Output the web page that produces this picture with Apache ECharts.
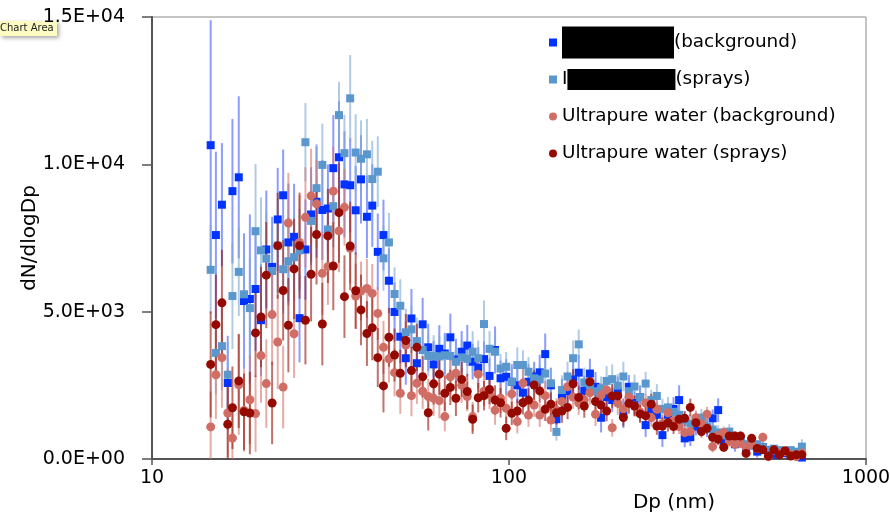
<!DOCTYPE html>
<html><head><meta charset="utf-8">
<script src="https://cdn.jsdelivr.net/npm/echarts@6/dist/echarts.min.js"></script>
<style>html,body{margin:0;padding:0;background:#fff}#c{width:890px;height:513px}</style>
</head><body><div id="c"></div>
<script>
// particle diameter bins (nm)
const diameters = [14.6,15.1,15.7,16.3,16.8,17.5,18.1,18.8,19.5,20.2,
20.9,21.7,22.5,23.3,24.1,25.0,25.9,26.9,27.9,28.9,
30.0,31.1,32.2,33.4,34.6,35.9,37.2,38.5,40.0,41.4,
42.9,44.5,46.1,47.8,49.6,51.4,53.3,55.2,57.3,59.4,
61.5,63.8,66.1,68.5,71.0,73.7,76.4,79.1,82.0,85.1,
88.2,91.4,94.7,98.2,101.8,105.5,109.4,113.4,117.6,121.9,
126.3,131.0,135.8,140.7,145.9,151.2,156.8,162.5,168.5,174.7,
181.1,187.7,194.6,201.7,209.1,216.7,224.7,232.9,241.4,250.3,
259.5,269.0,278.8,289.0,299.6,310.6,322.0,333.8,346.0,358.7,
371.8,385.4,399.5,414.2,429.4,445.1,461.4,478.3,495.8,514.0,
532.8,552.3,572.5,593.5,615.3,637.8,661.2];

const seriesNames = ['Redacted (background)','Redacted (sprays)','Ultrapure water (background)','Ultrapure water (sprays)'];

const sampleBackground = [10650,7600,8630,2580,9090,9560,5360,5430,5770,4710,
7110,6520,8130,8950,7350,7540,4780,7110,8300,8730,
8450,8500,9870,10240,9320,9290,8440,9490,8220,8600,
7030,7600,6050,4990,4150,3420,4770,3250,4570,3790,
3210,3740,3580,4130,3380,3640,3850,3300,3100,3390,
2820,3700,2740,2790,2620,2500,2250,2620,2800,2940,
3560,2500,1350,2120,2300,2700,2930,2320,2900,2450,
1400,2100,2000,2300,1550,2450,1900,2100,1150,1700,
1500,810,1500,1700,2000,700,740,1100,1250,1050,
1380,1660,600,800,500,650,350,600,250,400,
300,150,250,200,120,150,50];
const sampleBackgroundErr = [4240,2830,2090,1600,2450,2750,2300,2870,2100,1900,
2000,1700,1750,1550,2000,1800,1500,1700,1600,1900,
1700,1500,1800,1900,1800,1600,1500,1500,1400,1400,
1300,1200,1100,1000,900,900,1000,800,900,800,
800,800,700,800,700,700,700,600,700,600,
600,800,600,600,600,600,500,600,500,600,
700,600,500,600,500,600,600,500,500,500,
500,500,400,500,500,400,400,400,400,400,
400,400,400,400,500,300,300,300,300,300,
300,400,250,250,250,200,200,200,200,200,
150,150,150,150,150,150,150];

const sampleSprays = [6420,3600,3830,2860,5530,6350,5590,5120,7730,7080,
6800,6380,7240,6440,6710,6850,7080,10750,8080,9190,
9980,7790,8580,11670,10380,12240,10400,10190,10340,9500,
9750,6810,7350,5600,5200,4300,4400,4000,3700,3500,
3500,3480,3520,3500,3300,3450,3400,3640,3420,4580,
3740,3640,3070,3130,2620,3190,3190,2960,2740,2700,
2900,2570,920,2340,2800,3420,3890,2600,2500,2300,
2400,2650,2710,2490,2800,2300,2460,2100,2560,2000,
2140,1700,1750,1600,1500,1300,1200,1300,1400,1100,
1000,900,800,930,700,600,500,450,500,400,
300,350,300,250,300,250,420];
const sampleSpraysErr = [1500,1400,1500,1100,1800,1500,1400,1700,2280,1800,
1600,1500,1600,1500,1500,1500,1400,1330,1500,1500,
1400,1300,1400,1130,1300,1470,1300,1300,1200,1300,
1200,1100,1000,900,900,800,800,800,700,700,
700,700,700,700,700,600,600,700,600,800,
600,600,500,500,500,600,500,500,500,500,
500,500,300,500,500,600,500,500,500,400,
400,500,500,400,500,400,400,400,400,350,
400,350,350,300,300,300,300,300,300,250,
250,250,200,250,200,200,150,150,150,150,
120,120,120,100,100,100,250];

const upwBackground = [1090,2860,3440,1560,710,2520,1650,2010,1540,3510,
2560,4900,3970,2440,8010,4250,7350,8200,8930,8660,
6300,6530,9090,7740,8540,7150,5530,5700,5790,5620,
4940,3790,3400,2930,2230,3870,2150,2570,2300,2120,
2060,1980,1440,2790,2910,2500,2120,1440,2880,2300,
2200,1660,2060,1720,2210,1270,2570,1490,1830,1490,
2150,1320,1660,1950,2450,2100,1900,2000,2250,1520,
2170,2340,1060,1900,1700,2100,1800,1600,1900,1400,
1690,1200,1570,1300,1100,900,930,1400,1200,1520,
420,800,900,600,500,530,400,500,350,740,
80,300,200,250,150,80,200];
const upwBackgroundErr = [1200,1500,1700,1500,1100,1700,1400,1500,1300,1600,
1500,1700,1600,1400,1700,1500,1600,1700,1600,1500,
1400,1300,1500,1400,1300,1200,1100,1000,1000,1000,
900,900,800,800,700,800,700,700,600,600,
600,600,500,600,600,600,500,500,600,500,
500,500,500,500,500,400,500,400,400,400,
500,400,400,400,500,400,400,400,400,400,
400,400,300,400,350,350,350,350,300,300,
300,300,300,250,250,250,250,250,250,250,
200,200,200,200,150,150,150,150,150,150,
100,100,100,100,100,100,100];

const upwSprays = [3210,4560,5300,1180,1740,2650,1600,1560,4280,4820,
6240,1900,7240,5720,4540,6450,7240,4710,6270,7620,
4580,7570,6550,8360,5510,7230,5710,5060,4260,4450,
3440,2480,4130,3530,2910,4020,3000,3790,2790,1570,
2550,2880,2230,2430,2060,2700,2290,1350,2080,2150,
2360,2000,1910,1040,1550,1630,1910,2000,2510,2310,
1690,1860,1570,1630,1750,2550,2090,1800,2620,1950,
1830,1630,2140,2140,1410,1890,1800,1530,1470,1860,
1120,1120,1230,1100,1350,1380,1750,1230,930,1040,
740,670,400,780,780,780,190,700,360,310,
100,310,140,280,100,140,140];
const upwSpraysErr = [1800,1700,1800,1500,1400,1600,1300,1400,1500,1700,
1800,1400,1800,1700,1600,1700,1800,1500,1600,1700,
1400,1600,1500,1700,1400,1500,1300,1200,1100,1100,
1000,900,1000,900,800,900,800,800,700,600,
700,700,600,600,600,600,600,500,500,500,
500,500,500,400,400,400,400,400,500,400,
400,400,400,400,400,500,400,400,400,400,
400,350,400,400,300,350,350,300,300,350,
300,300,300,250,250,250,300,250,200,200,
200,200,150,150,150,150,100,150,100,100,
80,80,80,80,80,80,80];

const FONT = 'DejaVu Sans';

function pts(vals){ return vals.map((v,i)=>[diameters[i], v]); }
function errSeries(name, vals, errs, color){
  return {
    type:'custom', name: name + ' error', silent:true, clip:true,
    data: vals.map((v,i)=>[diameters[i], v - errs[i], v + errs[i]]),
    encode:{x:0, y:[1,2]},
    renderItem(params, api){
      const x = api.value(0);
      const lo = Math.max(0, api.value(1)), hi = api.value(2);
      const a = api.coord([x, lo]), b = api.coord([x, hi]);
      return {type:'line', shape:{x1:a[0], y1:a[1], x2:b[0], y2:b[1]},
              style:{stroke: color, lineWidth: 2}};
    }
  };
}
function ptSeries(name, vals, symbol, size, color){
  return {type:'scatter', name, data: pts(vals), symbol, symbolSize: size,
          itemStyle:{color, opacity:1}, emphasis:{disabled:true}};
}
function sci(v){
  const s = Number(v).toExponential(1);
  const parts = s.split('e');
  const sign = parts[1][0];
  const d = parts[1].slice(1).padStart(2,'0');
  return parts[0] + 'E' + sign + d;
}

const chart = echarts.init(document.getElementById('c'), null, {renderer:'canvas'});
chart.setOption({
  animation:false,
  backgroundColor:'#fff',
  grid:{left:152, right:24, top:17, bottom:54, show:true, borderColor:'#8a8a8a', borderWidth:1,
        containLabel:false, outerBoundsMode:'none'},
  xAxis:{
    type:'log', logBase:10, min:10, max:1000,
    name:'Dp (nm)', nameLocation:'middle', nameGap:30,
    nameTextStyle:{fontFamily:FONT, fontSize:20, color:'#000', padding:[0,0,0,330]},
    axisLine:{show:true, lineStyle:{color:'#555', width:2}},
    axisTick:{show:true, inside:false, length:6, lineStyle:{color:'#555', width:1.5}},
    minorTick:{show:false}, splitLine:{show:false},
    axisLabel:{fontFamily:FONT, fontSize:19, color:'#000', margin:10, formatter: v => String(Math.round(v))}
  },
  yAxis:{
    type:'value', min:0, max:15000, interval:5000,
    name:'dN/dlogDp', nameLocation:'middle', nameGap:112, nameRotate:90, nameMoveOverlap:false,
    nameTextStyle:{fontFamily:FONT, fontSize:20, color:'#000'},
    axisLine:{show:true, lineStyle:{color:'#555', width:2}},
    axisTick:{show:true, inside:false, length:10, lineStyle:{color:'#555', width:1.5}},
    splitLine:{show:false},
    axisLabel:{fontFamily:FONT, fontSize:19, color:'#000', margin:27, formatter: sci}
  },
  legend:{
    orient:'vertical', left:544, top:19, itemGap:0, itemWidth:8, itemHeight:8,
    selectedMode:false,
    data:[{name:seriesNames[0], icon:'rect'},{name:seriesNames[1], icon:'rect'},
          {name:seriesNames[2], icon:'circle'},{name:seriesNames[3], icon:'circle'}],
    textStyle:{fontFamily:FONT, fontSize:18.4, color:'#000', lineHeight:37,
      rich:{
        r1:{width:112, height:32, lineHeight:37, backgroundColor:'#000'},
        r2:{width:108, height:21, lineHeight:37, backgroundColor:'#000'}
      }},
    formatter(name){
      if(name === seriesNames[0]) return '{r1| }(background)';
      if(name === seriesNames[1]) return 'I{r2| }(sprays)';
      return name;
    }
  },
  graphic:[{
    type:'group', left:0, top:21, z:200,
    children:[
      {type:'rect', shape:{x:0, y:0, width:57, height:15},
       style:{fill:'#fbfbc2', shadowBlur:4, shadowOffsetX:2, shadowOffsetY:2, shadowColor:'rgba(0,0,0,0.35)'}},
      {type:'text', x:0, y:7.5, style:{text:'Chart Area', fontFamily:FONT, fontSize:10, fill:'#222', verticalAlign:'middle'}}
    ]
  }],
  series:[
    errSeries(seriesNames[0], sampleBackground, sampleBackgroundErr, 'rgba(45,75,255,0.55)'),
    ptSeries(seriesNames[0], sampleBackground, 'rect', 8, '#0033ff'),
    errSeries(seriesNames[1], sampleSprays, sampleSpraysErr, 'rgba(125,168,212,0.6)'),
    ptSeries(seriesNames[1], sampleSprays, 'rect', 8, '#5a97cc'),
    errSeries(seriesNames[2], upwBackground, upwBackgroundErr, 'rgba(214,118,110,0.6)'),
    ptSeries(seriesNames[2], upwBackground, 'circle', 9, '#d06e66'),
    errSeries(seriesNames[3], upwSprays, upwSpraysErr, 'rgba(150,20,10,0.6)'),
    ptSeries(seriesNames[3], upwSprays, 'circle', 9, '#940a00')
  ]
});
</script></body></html>
